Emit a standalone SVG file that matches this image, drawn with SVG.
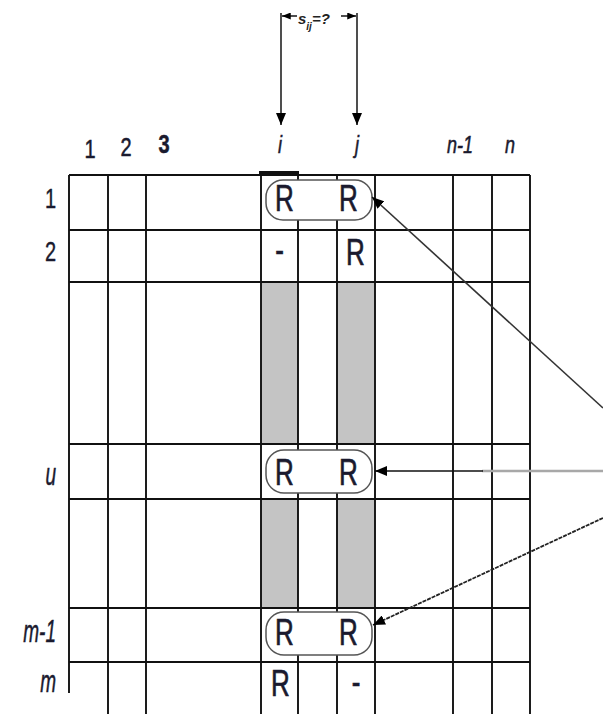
<svg xmlns="http://www.w3.org/2000/svg" width="603" height="714" viewBox="0 0 603 714">
  <style>
    .grid line { stroke: #111; stroke-width: 1.9; }
    .shade { fill: #c4c4c4; }
    .pill { fill: #fff; stroke: #555; stroke-width: 1.5; }
    .r { font-family: "Liberation Sans", Arial, sans-serif; font-size: 26px; fill: #1a1a2e; stroke: #1a1a2e; stroke-width: 0.5; text-anchor: middle; }
    .num { font-family: "Liberation Sans", Arial, sans-serif; font-size: 20px; fill: #1a1a2e; stroke: #1a1a2e; stroke-width: 0.4; text-anchor: middle; }
    .rowlab { font-family: "Liberation Sans", Arial, sans-serif; font-size: 20px; fill: #1a1a2e; stroke: #1a1a2e; stroke-width: 0.3; text-anchor: end; }
    .it { font-family: "Liberation Sans", Arial, sans-serif; font-style: italic; font-size: 18px; fill: #1a1a2e; stroke: #1a1a2e; stroke-width: 0.4; text-anchor: middle; }
    .itl { font-family: "Liberation Sans", Arial, sans-serif; font-style: italic; font-size: 19px; fill: #1a1a2e; stroke: #1a1a2e; stroke-width: 0.3; text-anchor: end; }
    .conn { stroke: #222; stroke-width: 1.6; fill: none; }
    .sij { font-family: "Liberation Sans", Arial, sans-serif; font-style: italic; font-weight: bold; font-size: 15px; fill: #222; }
  </style>
  <defs>
    <marker id="ah" viewBox="0 0 12 10" refX="12" refY="5" markerWidth="12" markerHeight="10" markerUnits="userSpaceOnUse" orient="auto">
      <path d="M0,0 L12,5 L0,10 Z" fill="#000"/>
    </marker>
    <marker id="ahs" viewBox="0 0 10 8" refX="10" refY="4" markerWidth="9" markerHeight="7" markerUnits="userSpaceOnUse" orient="auto">
      <path d="M0,0 L10,4 L0,8 Z" fill="#000"/>
    </marker>
  </defs>

  <g id="shading">
    <rect class="shade" x="261" y="282" width="37" height="162"/>
    <rect class="shade" x="337" y="282" width="38" height="162"/>
    <rect class="shade" x="261" y="499" width="37" height="109"/>
    <rect class="shade" x="337" y="499" width="38" height="109"/>
  </g>

  <g id="grid" class="grid">
    <line x1="69" y1="175" x2="69" y2="693"/>
    <line x1="108" y1="175" x2="108" y2="714"/>
    <line x1="146" y1="175" x2="146" y2="714"/>
    <line x1="261" y1="175" x2="261" y2="714"/>
    <line x1="298" y1="175" x2="298" y2="714"/>
    <line x1="337" y1="175" x2="337" y2="714"/>
    <line x1="375" y1="175" x2="375" y2="714"/>
    <line x1="453" y1="175" x2="453" y2="714"/>
    <line x1="492" y1="175" x2="492" y2="714"/>
    <line x1="530" y1="175" x2="530" y2="714"/>
    <line x1="69" y1="175" x2="530" y2="175"/>
    <line x1="69" y1="230" x2="530" y2="230"/>
    <line x1="69" y1="282" x2="530" y2="282"/>
    <line x1="69" y1="444" x2="530" y2="444"/>
    <line x1="69" y1="499" x2="530" y2="499"/>
    <line x1="69" y1="608" x2="530" y2="608"/>
    <line x1="69" y1="662" x2="530" y2="662"/>
    <line x1="259" y1="173" x2="299" y2="173" style="stroke-width:4"/>
  </g>

  <g id="row1-pair">
    <rect class="pill" x="266" y="180" width="106" height="40" rx="17"/>
    <text class="r" transform="translate(284.5,211) scale(1,1.4)">R</text>
    <text class="r" transform="translate(348.5,211) scale(1,1.4)">R</text>
  </g>
  <g id="row2-cells">
    <text class="r" transform="translate(279.5,262) scale(1,1.4)">-</text>
    <text class="r" transform="translate(355.5,265) scale(1,1.4)">R</text>
  </g>
  <g id="rowu-pair">
    <rect class="pill" x="266" y="450" width="106" height="43" rx="18"/>
    <text class="r" transform="translate(284.5,485) scale(1,1.4)">R</text>
    <text class="r" transform="translate(348.5,485) scale(1,1.4)">R</text>
  </g>
  <g id="rowm1-pair">
    <rect class="pill" x="266" y="612" width="106" height="43" rx="18"/>
    <text class="r" transform="translate(284.5,645) scale(1,1.4)">R</text>
    <text class="r" transform="translate(348.5,645) scale(1,1.4)">R</text>
  </g>
  <g id="rowm-cells">
    <text class="r" transform="translate(280.5,696) scale(1,1.4)">R</text>
    <text class="r" transform="translate(356,694) scale(1,1.4)">-</text>
  </g>

  <g id="col-labels">
    <text class="num" transform="translate(90,158) scale(1,1.3)">1</text>
    <text class="num" transform="translate(126,156) scale(1,1.3)">2</text>
    <text class="num" transform="translate(164,153) scale(1,1.3)" font-weight="bold">3</text>
    <text class="it" transform="translate(280,153) scale(1,1.35)">i</text>
    <text class="it" transform="translate(357,153) scale(1,1.35)">j</text>
    <text class="it" transform="translate(460,153) scale(1,1.35)">n-1</text>
    <text class="it" transform="translate(510,153) scale(1,1.35)">n</text>
  </g>

  <g id="row-labels">
    <text class="rowlab" transform="translate(56,208) scale(1,1.4)">1</text>
    <text class="rowlab" transform="translate(56,261) scale(1,1.4)">2</text>
    <text class="itl" transform="translate(56,485) scale(1,1.65)">u</text>
    <text class="itl" transform="translate(56,642) scale(1,1.65)">m-1</text>
    <text class="itl" transform="translate(56,692) scale(1,1.65)">m</text>
  </g>
  <rect x="0" y="693" width="68" height="21" fill="#fff"/>

  <g id="top-dimension">
    <line class="conn" x1="281" y1="13" x2="281" y2="125" marker-end="url(#ah)"/>
    <line class="conn" x1="357" y1="13" x2="357" y2="125" marker-end="url(#ah)"/>
    <line class="conn" x1="297" y1="16" x2="282" y2="16" marker-end="url(#ahs)"/>
    <line class="conn" x1="341" y1="16" x2="356" y2="16" marker-end="url(#ahs)"/>
    <text class="sij" x="298" y="24">s<tspan font-size="10" dy="6">ij</tspan><tspan dy="-6">=?</tspan></text>
  </g>

  <g id="connectors">
    <line class="conn" x1="603" y1="408" x2="372" y2="197" marker-end="url(#ah)" style="stroke:#333"/>
    <line x1="482" y1="471" x2="603" y2="471" stroke="#a8a8a8" stroke-width="2.5"/>
    <line class="conn" x1="483" y1="471" x2="375" y2="471" marker-end="url(#ah)" style="stroke:#111"/>
    <line class="conn" x1="603" y1="518" x2="373" y2="625" marker-end="url(#ah)" style="stroke-dasharray:4 1;stroke-width:1.8"/>
  </g>
</svg>
